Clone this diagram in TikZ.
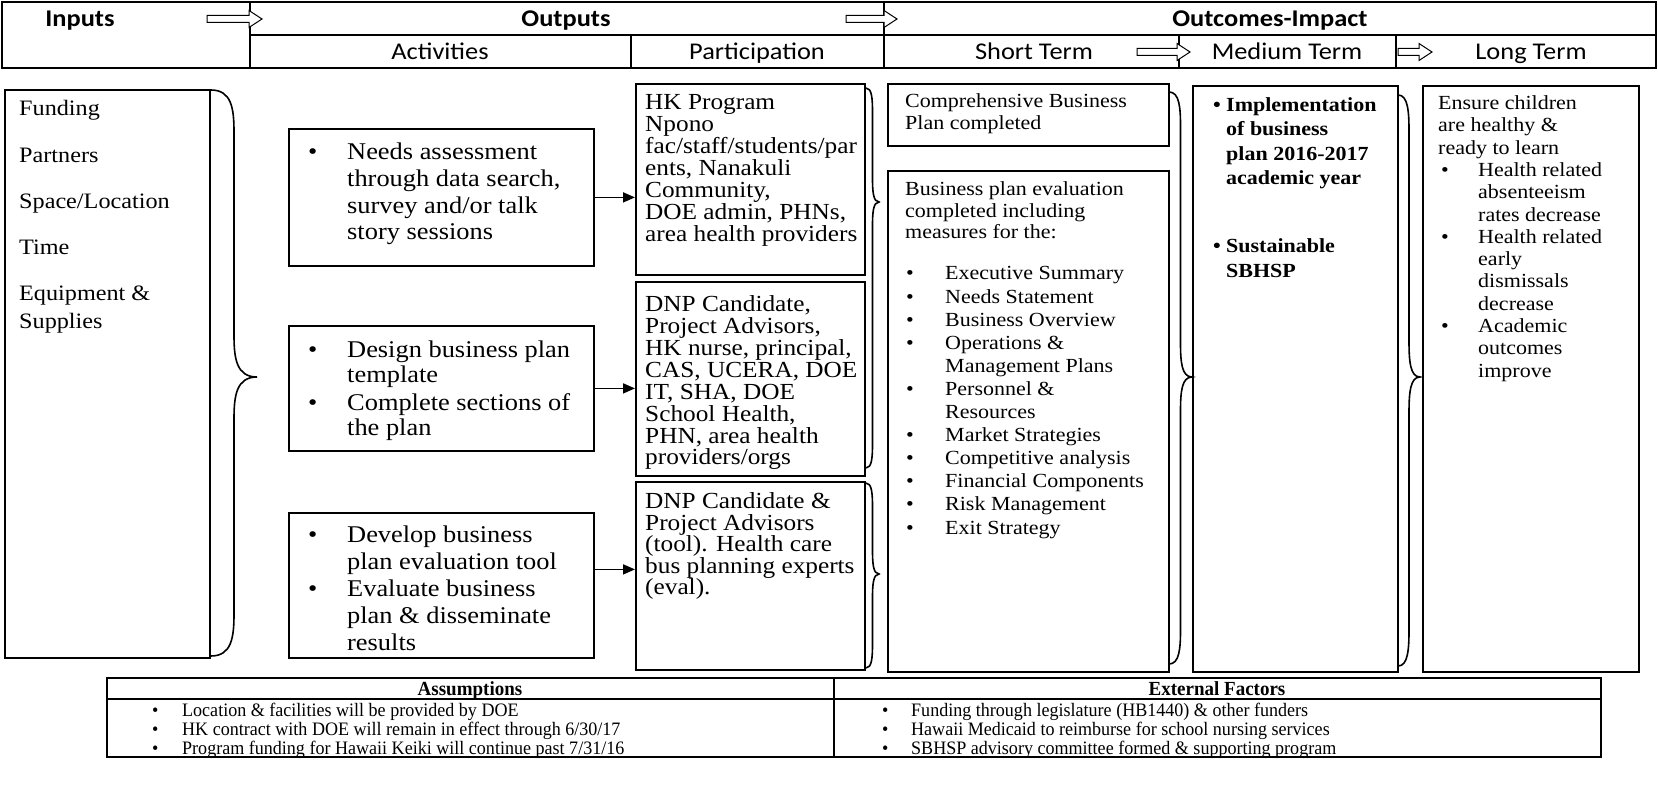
\documentclass[tikz,border=0pt]{standalone}
\usepackage{fontspec}
\setmainfont[FakeStretch=1.1]{Liberation Serif}
\newfontfamily\tblf[FakeStretch=0.95]{Liberation Serif}
\newfontfamily\hdf[FakeStretch=1.1]{Carlito}
\usetikzlibrary{arrows.meta,calc}
\newcommand\fs[2]{\fontsize{#1}{#2}\selectfont}
\newcommand\mybul[1]{\makebox[#1][l]{\textbullet}}
\newcommand\hin[1]{\hspace*{#1}}
\newcommand\RBrace[6]{%
  \draw[brc] (#1,#2) .. controls ({#1+0.45*#5},#2) and ({#1+0.5*#5},{#2+0.45*#6}) .. ({#1+0.5*#5},{#2+#6})
   -- ({#1+0.5*#5},{#4-#6}) .. controls ({#1+0.5*#5},{#4-0.45*#6}) and ({#1+0.55*#5},#4) .. ({#1+#5},#4)
   .. controls ({#1+0.55*#5},#4) and ({#1+0.5*#5},{#4+0.45*#6}) .. ({#1+0.5*#5},{#4+#6})
   -- ({#1+0.5*#5},{#3-#6}) .. controls ({#1+0.5*#5},{#3-0.45*#6}) and ({#1+0.45*#5},#3) .. (#1,#3);}
\newcommand\BlkArrow[3]{%
  \draw[blk] (#1,{#3-3.5}) -- ({#2-13},{#3-3.5}) -- ({#2-13},{#3-8.5}) -- (#2,#3) -- ({#2-13},{#3+8.5}) -- ({#2-13},{#3+3.5}) -- (#1,{#3+3.5}) -- cycle;}
\tikzset{
 box/.style={draw, line width=1.8pt, inner sep=0pt, anchor=north west},
 txt/.style={inner sep=0pt, anchor=north west, align=left},
 hd/.style={inner sep=0pt, anchor=base, font=\hdf\fs{24}{28}},
 hdb/.style={inner sep=0pt, anchor=base, font=\hdf\bfseries\fs{24}{28}},
 brc/.style={line width=1.6pt},
 blk/.style={line width=1pt, fill=white},
 conn/.style={line width=1.6pt, -{Triangle[length=12pt,width=10pt]}},
 hline/.style={line width=1.3pt},
 tline/.style={line width=1.5pt},
}
\begin{document}
\begin{tikzpicture}[x=1pt,y=-1pt]
\fill[white] (0,0) rectangle (1658,786);
\useasboundingbox (0,0) rectangle (1658,786);
% header table
\draw[hline] (2,2) rectangle (1656,68);
\draw[hline] (250,35) -- (1656,35);
\draw[hline] (250,2) -- (250,68);
\draw[hline] (884,2) -- (884,68);
\draw[hline] (631,35) -- (631,68);
\draw[hline] (1179,35) -- (1179,68);
\draw[hline] (1396,35) -- (1396,68);
\BlkArrow{207}{262}{19}
\BlkArrow{846}{897}{19}
\BlkArrow{1137}{1190}{52}
\BlkArrow{1398}{1432}{52}
\node[hdb] (hInputs) at (80,27) {Inputs};
\node[hdb] (hOutputs) at (566,27) {Outputs};
\node[hdb] (hOutcomes) at (1270,27) {Outcomes-Impact};
\node[hd] (hAct) at (440,60) {Activities};
\node[hd] (hPart) at (757,60) {Participation};
\node[hd] (hShort) at (1034,60) {Short Term};
\node[hd] (hMed) at (1287,60) {Medium Term};
\node[hd] (hLong) at (1531,60) {Long Term};
% boxes
\node[box, minimum width=205pt, minimum height=568pt] (inputs) at (4,89) {};
\node[box, minimum width=305pt, minimum height=137pt] (A1) at (288,128) {};
\node[box, minimum width=305pt, minimum height=125pt] (A2) at (288,325) {};
\node[box, minimum width=305pt, minimum height=145pt] (A3) at (288,512) {};
\node[box, minimum width=229pt, minimum height=191pt] (P1) at (635,83) {};
\node[box, minimum width=229pt, minimum height=194pt] (P2) at (635,281) {};
\node[box, minimum width=229pt, minimum height=188pt] (P3) at (635,481) {};
\node[box, minimum width=281pt, minimum height=62pt] (S1) at (887,83) {};
\node[box, minimum width=281pt, minimum height=501pt] (S2) at (887,170) {};
\node[box, minimum width=205pt, minimum height=586pt] (M) at (1192,85) {};
\node[box, minimum width=216pt, minimum height=586pt] (L) at (1422,85) {};
% braces
\RBrace{211}{90}{656}{377}{46}{42}
\RBrace{866}{88}{468}{202}{13}{24}
\RBrace{866}{483}{668}{574}{13}{24}
\RBrace{1169}{92}{664}{377}{23}{34}
\RBrace{1398}{95}{666}{377}{22}{36}
% connectors
\draw[conn] (A1.east) -- (A1.east -| P1.west);
\draw[conn] (A2.east) -- (A2.east -| P2.west);
\draw[conn] ([yshift=16pt]A3.east) -- ([yshift=16pt]A3.east -| P3.west);
% texts
\node[txt, font=\fs{22}{28}] (inputsT) at (19,100) {Funding\\[19pt]Partners\\[18pt]Space/Location\\[18pt]Time\\[18pt]Equipment \&\\Supplies};
\node[txt, font=\fs{24}{26.7}] (A1t) at (308,143) {\mybul{39pt}Needs assessment\\\hin{39pt}through data search,\\\hin{39pt}survey and/or talk\\\hin{39pt}story sessions};
\node[txt, font=\fs{24}{25}] (A2t) at (308,341) {\mybul{39pt}Design business plan\\\hin{39pt}template\\[3pt]\mybul{39pt}Complete sections of\\\hin{39pt}the plan};
\node[txt, font=\fs{24}{26.8}] (A3t) at (308,526) {\mybul{39pt}Develop business\\\hin{39pt}plan evaluation tool\\\mybul{39pt}Evaluate business\\\hin{39pt}plan \& disseminate\\\hin{39pt}results};
\node[txt, font=\fs{23}{22}] (P1t) at (645,94.5) {HK Program\\Npono\\fac/staff/students/par\\ents, Nanakuli\\Community,\\DOE admin, PHNs,\\area health providers};
\node[txt, font=\fs{23}{21.9}] (P2t) at (645,295.5) {DNP Candidate,\\Project Advisors,\\HK nurse, principal,\\CAS, UCERA, DOE\\IT, SHA, DOE\\School Health,\\PHN, area health\\providers/orgs};
\node[txt, font=\fs{23}{21.5}] (P3t) at (645,492.5) {DNP Candidate \&\\Project Advisors\\(tool). Health care\\bus planning experts\\(eval).};
\node[txt, font=\fs{20}{22}] (S1t) at (905,93.5) {Comprehensive Business\\Plan completed};
\node[txt, font=\fs{20}{21.6}] (S2a) at (905,181.5) {Business plan evaluation\\completed including\\measures for the:};
\node[txt, font=\fs{20}{23.1}] (S2b) at (906,266.5) {\mybul{39pt}Executive Summary\\\mybul{39pt}Needs Statement\\\mybul{39pt}Business Overview\\\mybul{39pt}Operations \&\\\hin{39pt}Management Plans\\\mybul{39pt}Personnel \&\\\hin{39pt}Resources\\\mybul{39pt}Market Strategies\\\mybul{39pt}Competitive analysis\\\mybul{39pt}Financial Components\\\mybul{39pt}Risk Management\\\mybul{39pt}Exit Strategy};
\node[txt, font=\bfseries\fs{20}{24.5}] (Mt) at (1213,97) {\mybul{13pt}Implementation\\\hin{13pt}of business\\\hin{13pt}plan 2016-2017\\\hin{13pt}academic year\\[43.5pt]\mybul{13pt}Sustainable\\\hin{13pt}SBHSP};
\node[txt, font=\fs{20}{22.3}] (Lt) at (1438,95.5) {Ensure children\\are healthy \&\\ready to learn\\\hin{3pt}\mybul{37pt}Health related\\\hin{40pt}absenteeism\\\hin{40pt}rates decrease\\\hin{3pt}\mybul{37pt}Health related\\\hin{40pt}early\\\hin{40pt}dismissals\\\hin{40pt}decrease\\\hin{3pt}\mybul{37pt}Academic\\\hin{40pt}outcomes\\\hin{40pt}improve};
% bottom table
\node[box, line width=1.5pt, minimum width=1494pt, minimum height=79pt] (tbl) at (106,677) {};
\draw[tline] (tbl.west |- 0,699) -- (tbl.east |- 0,699);
\draw[tline] (834,677) -- (834,756);
\node[inner sep=0pt, anchor=base, font=\tblf\bfseries\fs{20}{20}] (asmH) at (470,695) {Assumptions};
\node[inner sep=0pt, anchor=base, font=\tblf\bfseries\fs{20}{20}] (extH) at (1217,695) {External Factors};
\node[txt, font=\tblf\fs{19}{19.3}] (asmT) at (152,702.5) {\mybul{30pt}Location \& facilities will be provided by DOE\\\mybul{30pt}HK contract with DOE will remain in effect through 6/30/17\\\mybul{30pt}Program funding for Hawaii Keiki will continue past 7/31/16};
\node[txt, font=\tblf\fs{19}{19.3}] (extT) at (882,702.5) {\mybul{29pt}Funding through legislature (HB1440) \& other funders\\\mybul{29pt}Hawaii Medicaid to reimburse for school nursing services\\\mybul{29pt}SBHSP advisory committee formed \& supporting program};
\end{tikzpicture}
\end{document}
